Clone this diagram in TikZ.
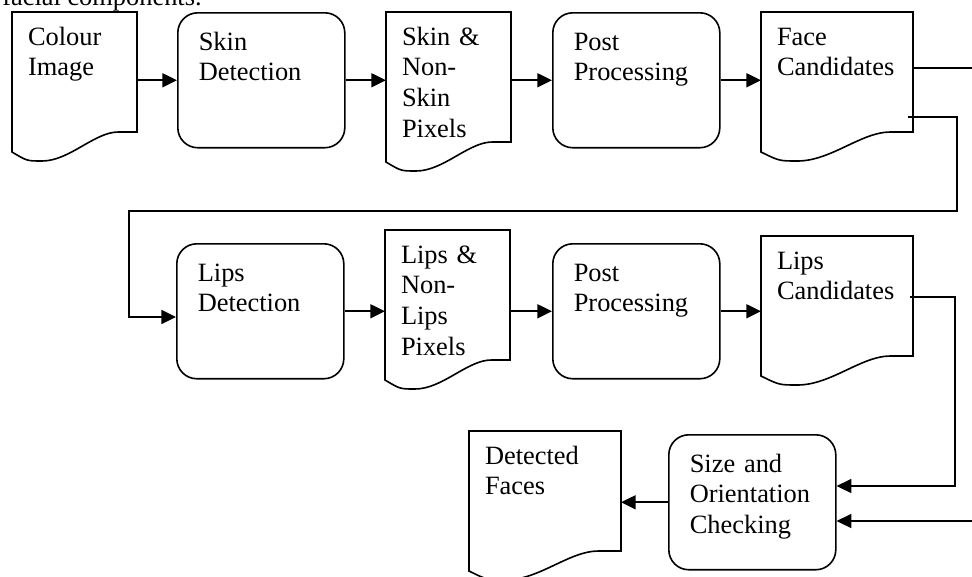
\documentclass[tikz,border=0pt]{standalone}
\usepackage{fontspec}
\setmainfont{Liberation Serif}
\usepackage{tikz}
\usetikzlibrary{calc}
\usetikzlibrary{arrows.meta}

\begin{document}
\begin{tikzpicture}[x=0.75pt, y=-0.75pt, font=\fontsize{19.8pt}{23pt}\selectfont]

\tikzset{
    boite/.style = {
    anchor=north west,
    align=left,
    inner xsep=15.75pt,
    inner ysep=12pt,
    text width=93.75pt,
    text height=16.1pt,
    text depth=61.1pt
    },
    feuille/.style = {
    anchor=north west,
    align=left,
    outer sep=0pt,
    inner xsep=12pt,
    inner ysep=12pt,
    text width=69.75pt,
    text height=12.75pt,
    text depth=53.25pt
    }
}

\tikzstyle{traitement}=[draw, very thick, rounded corners=15pt, boite]
\tikzstyle{document}=[feuille]
\tikzstyle{haut}=[feuille, text depth=60.75pt]
\tikzstyle{large}=[feuille, text width=90pt]
\tikzstyle{trait}=[very thick]
\tikzstyle{fleche}=[very thick, -{Triangle[length=11pt,width=10.5pt]}]

\useasboundingbox (0,0) rectangle (972,576);

\node (intro) [anchor=base west, inner sep=0pt] at (2,5) {facial components.};

% first row
\node (a-1) [document] at (12,12) {Colour\\Image};
\node (a-2) [traitement] at (177,12) {Skin\\Detection};
\node (a-3) [haut] at (386,12) {Skin \&\\Non-\\Skin\\Pixels};
\node (a-4) [traitement] at (552,12) {Post\\Processing};
\node (a-5) [large] at (761,12) {Face\\Candidates};

% second row
\node (b-1) [traitement] at (176,243) {Lips\\Detection};
\node (b-2) [haut] at (385,230) {Lips \&\\Non-\\Lips\\Pixels};
\node (b-3) [traitement] at (552,243) {Post\\Processing};
\node (b-4) [large] at (761,236) {Lips\\Candidates};

% third row
\node (c-1) [traitement] at (668,434) {Size and\\Orientation\\Checking};
\node (c-2) [large] at (469,431) {Detected\\Faces};

\foreach \n in {a-1,a-3,a-5,b-2,b-4,c-2}{
    \draw[trait] (\n.north west) -- (\n.north east) -- (\n.south east)
        -- ($(\n.south west)!0.85!(\n.south east)$)
        .. controls ($(\n.south west)!0.66!(\n.south east)$)
        and ($(\n.south west)!0.46!(\n.south east)+(0,29)$)
        .. ($(\n.south west)!0.24!(\n.south east)+(0,29)$)
        .. controls ($(\n.south west)!0.12!(\n.south east)+(0,29)$)
        .. ($(\n.south west)+(0,20)$) -- cycle;
}

\foreach \p/\d in {a-2/a-3,a-4/a-5,b-1/b-2,b-3/b-4}{
    \draw[fleche] (\p.east) -- (\d.west |- \p.east);
}
\foreach \d/\p in {a-1/a-2,a-3/a-4,b-2/b-3}{
    \draw[fleche] (\d.east |- \p.west) -- (\p.west);
}

\coordinate (e-1) at (972,68);
\coordinate (e-2) at (972,521);
\coordinate (s-1) at (908,117);
\coordinate (k-1) at (957,211);
\coordinate (k-2) at (129,317);
\coordinate (s-2) at (910,297);
\coordinate (k-3) at (955,486);

\draw[trait] (a-5.east |- e-1) -- (e-1);
\draw[fleche] (s-1) -| (k-1) -| (k-2) -- (b-1.west |- k-2);
\draw[fleche] (s-2) -| (k-3) -- (c-1.east |- k-3);
\draw[fleche] (e-2) -- (c-1.east |- e-2);
\draw[fleche] (c-1.west) -- (c-2.east |- c-1.west);

\end{tikzpicture}
\end{document}
